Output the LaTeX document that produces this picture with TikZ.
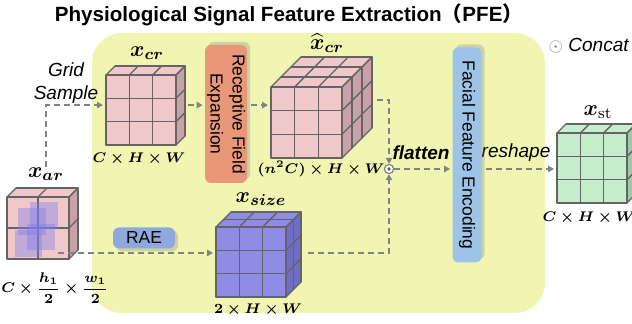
\documentclass[tikz,border=0pt]{standalone}
\usepackage{amsmath}
\usepackage{bm}
\usepackage[no-math]{fontspec}
\setmainfont{Liberation Sans}
\newfontfamily\cjk{Noto Sans CJK SC}
\usetikzlibrary{arrows.meta,positioning,shadows}
\definecolor{panelyellow}{RGB}{241,245,178}
\definecolor{pinkface}{RGB}{240,200,202}
\definecolor{pinkside}{RGB}{200,162,168}
\definecolor{purpleface}{RGB}{142,140,228}
\definecolor{purpleside}{RGB}{112,110,196}
\definecolor{greenface}{RGB}{198,238,204}
\definecolor{greenside}{RGB}{160,200,168}
\definecolor{lineg}{RGB}{100,100,100}
\definecolor{flowg}{RGB}{130,130,130}
\definecolor{rfeorange}{RGB}{232,152,120}
\definecolor{raeblue}{RGB}{142,170,220}
\definecolor{ffeblue}{RGB}{157,195,230}
\definecolor{regionblue}{RGB}{125,125,238}
% cube: name, left, top, size, depth, cells, layers, face colour, side colour
\newcommand{\gridcube}[9]{%
  \fill[#8] (#2,#3) -- ++(#5,-#5) -- ++(#4,0) -- ++(-#5,#5) -- cycle;
  \fill[#9] ({#2+#4},#3) -- ++(#5,-#5) -- ++(0,#4) -- ++(-#5,#5) -- cycle;
  \fill[#8] (#2,#3) rectangle ++(#4,#4);
  \foreach \k in {0,...,#6}{
    \draw[cubeline] ({#2+#4*\k/#6},#3) -- ++(0,#4);
    \draw[cubeline] (#2,{#3+#4*\k/#6}) -- ++(#4,0);
    \draw[cubeline] ({#2+#4*\k/#6},#3) -- ++(#5,-#5);
    \draw[cubeline] ({#2+#4},{#3+#4*\k/#6}) -- ++(#5,-#5);
  }
  \foreach \j in {1,...,#7}{
    \draw[cubeline] ({#2+#5*\j/#7},{#3-#5*\j/#7}) -- ++(#4,0);
    \draw[cubeline] ({#2+#4+#5*\j/#7},{#3-#5*\j/#7}) -- ++(0,#4);
  }
  \coordinate (#1-w) at ({#2-3},{#3+#4*0.43});
  \coordinate (#1-e) at ({#2+#4+#5+3},{#3+#4*0.43});
}
\begin{document}
\begin{tikzpicture}[x=0.5pt,y=-0.5pt,
  cubeline/.style={draw=lineg, line width=0.65pt, line cap=round},
  flow/.style={draw=flowg, line width=0.75pt, dash pattern=on 3pt off 2pt,
    -{Triangle[length=3pt,width=3.2pt]}},
  mathlab/.style={font=\fontsize{11}{13}\selectfont, inner sep=0pt},
  dimlab/.style={font=\fontsize{6.8}{8.5}\selectfont, inner sep=0pt},
  textlab/.style={font=\itshape\fontsize{9.5}{11.5}\selectfont, inner sep=0pt, align=center},
  block/.style={rounded corners=3pt, inner sep=0pt, align=center,
    font=\fontsize{8.7}{11}\selectfont,
    drop shadow={shadow xshift=1.5pt, shadow yshift=-1.5pt, opacity=0.3}},
  vblock/.style={rounded corners=3pt, inner sep=0pt, align=center, rotate=-90,
    font=\fontsize{8.7}{11}\selectfont,
    drop shadow={shadow xshift=1.5pt, shadow yshift=1.5pt, opacity=0.3}},
  catnode/.style={circle, draw=flowg, fill=white, line width=0.6pt, minimum size=4.6pt, inner sep=0pt}]
\useasboundingbox (0,0) rectangle (632,324);
% Panel
\fill[panelyellow, rounded corners=15pt] (92,33) rectangle (545,313);
\node[font=\bfseries\fontsize{10.3}{12}\selectfont] (title) at (289,15)
  {Physiological Signal Feature Extraction{\cjk （}PFE{\cjk ）}};
\node[font=\fontsize{9.5}{11}\selectfont] (legend) at (589,46) {{\color{flowg}$\odot$} \textit{Concat}};
% Cubes
\gridcube{xar}{7}{197}{62}{9}{2}{1}{pinkface}{pinkside}
\fill[regionblue, fill opacity=0.4] (30,202) rectangle (58,229);
\fill[regionblue, fill opacity=0.4] (18,208) rectangle (46,235);
\fill[regionblue, fill opacity=0.4] (27,224) rectangle (55,250);
\fill[regionblue, fill opacity=0.4] (15,230) rectangle (42,257);
\gridcube{xcr}{106}{75}{70}{9}{3}{1}{pinkface}{pinkside}
\gridcube{xhat}{271}{87}{71}{30}{3}{3}{pinkface}{pinkside}
\gridcube{xsize}{216}{227}{70}{15}{3}{2}{purpleface}{purpleside}
\gridcube{xst}{557}{133}{70}{9}{3}{1}{greenface}{greenside}
% Labels
\node[mathlab] (xarlab) at (46,174) {$\bm{x}_{\bm{ar}}$};
\node[dimlab] (xardim) at (55,288) {$\bm{C\times\dfrac{h_1}{2}\times\dfrac{w_1}{2}}$};
\node[mathlab] (xcrlab) at (147,53) {$\bm{x}_{\bm{cr}}$};
\node[dimlab] (xcrdim) at (139,159) {$\bm{C\times H\times W}$};
\node[mathlab] (xhatlab) at (327,43) {$\widehat{\bm{x}}_{\bm{cr}}$};
\node[dimlab] (xhatdim) at (321,169) {$\bm{(n^2C)\times H\times W}$};
\node[mathlab] (xsizelab) at (261,199) {$\bm{x}_{\bm{size}}$};
\node[dimlab] (xsizedim) at (258,310) {$\bm{2\times H\times W}$};
\node[mathlab] (xstlab) at (598,112) {$\bm{x}_{\mathrm{st}}$};
\node[dimlab] (xstdim) at (589,218) {$\bm{C\times H\times W}$};
\node[textlab] (grid) at (66,83) {Grid\\Sample};
\node[textlab, font=\bfseries\itshape\fontsize{9.5}{11.5}\selectfont] (flat) at (421,153) {flatten};
\node[textlab] (resh) at (516,153) {reshape};
% Blocks
\node[vblock, fill=rfeorange, minimum width=69pt, minimum height=21pt] (rfe) at (226,114)
  {Receptive Field\\Expansion};
\node[block, fill=raeblue, minimum width=31pt, minimum height=10.5pt] (rae) at (144,238) {RAE};
\node[vblock, fill=ffeblue, minimum width=107.5pt, minimum height=14.5pt] (ffe) at (467,155)
  {Facial Feature Encoding};
\node[catnode] (cat) at (389,169) {};
\fill[lineg] (cat.center) circle (0.9pt);
% Connectors
\coordinate (hatout) at (377,100);
\coordinate (xarout) at (58,253);
\coordinate (sizeout) at (308,253);
\draw[flow] (xarlab.north) |- (xcr-w);
\draw[flow] (xcr-e) -- ([xshift=-1pt]rfe.south |- xcr-e);
\draw[flow] ([xshift=2pt]rfe.north |- xcr-e) -- (xhat-w |- xcr-e);
\draw[flow] (hatout) -| (cat.north);
\draw[flow] (xarout) -- (xsize-w |- xarout);
\draw[flow] (sizeout) -| (cat.south);
\draw[flow] (cat.east) -- ([xshift=-1pt]ffe.south |- cat);
\draw[flow] ([xshift=2pt]ffe.north |- cat) -- (xst-w |- cat);
\end{tikzpicture}
\end{document}
